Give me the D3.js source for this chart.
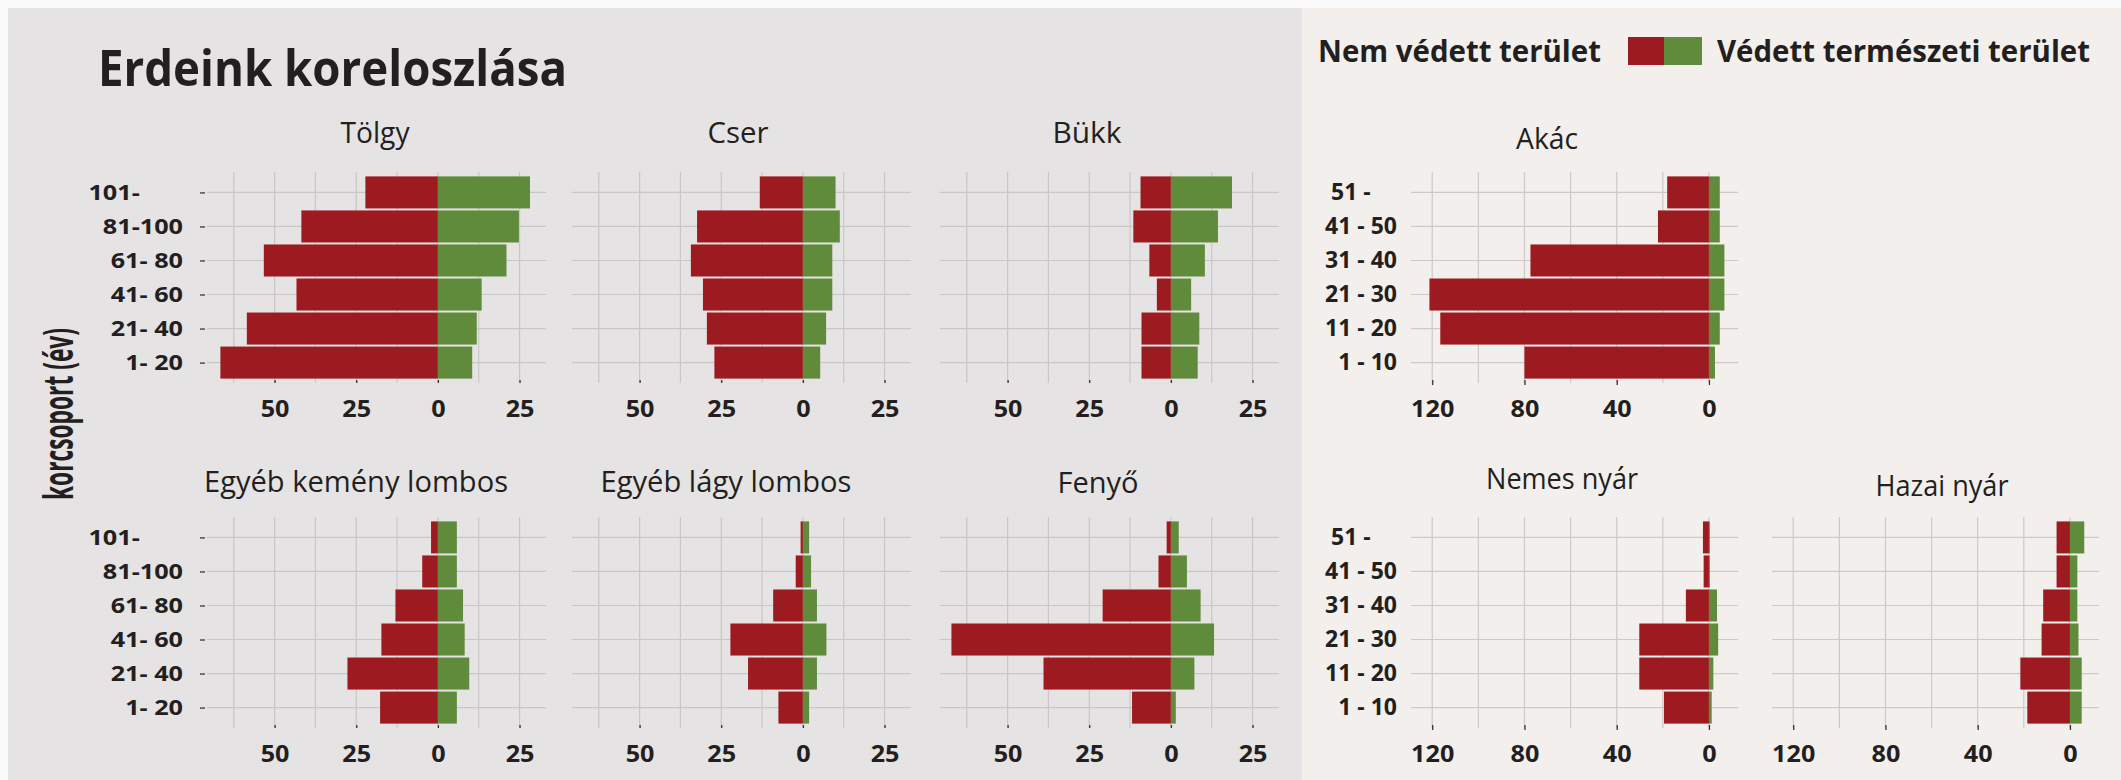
<!DOCTYPE html>
<html>
<head>
<meta charset="utf-8">
<script src="https://cdn.jsdelivr.net/npm/d3@7/dist/d3.min.js"></script>
<style>
  html, body { margin: 0; padding: 0; background: #fff; }
  svg { display: block; font-family: 'Open Sans', 'DejaVu Sans', sans-serif; }
</style>
</head>
<body>
<svg id="chart" width="2121" height="780"></svg>
<script>
// age groups (youngest first) - tick labels
const ageLeft = ['1- 20', '21- 40', '41- 60', '61- 80', '81-100', '101-\u2007\u2007\u2007']
const ageRight = ['1 - 10', '11 - 20', '21 - 30', '31 - 40', '41 - 50', '51 -\u2007\u2007']

// legend / series
const seriesNames = ['Nem védett terület', 'Védett természeti terület']

// values per species, youngest group first (red = nem védett, green = védett)
const tolgyNem = [66.6, 58.5, 43.3, 53.3, 41.8, 22.2]
const tolgyVed = [10.5, 11.9, 13.4, 21.0, 24.8, 28.2]
const cserNem = [27.1, 29.4, 30.6, 34.3, 32.4, 13.2]
const cserVed = [5.3, 7.1, 9.0, 9.0, 11.3, 10.0]
const bukkNem = [9.0, 9.0, 4.3, 6.6, 11.5, 9.3]
const bukkVed = [8.2, 8.7, 6.2, 10.4, 14.4, 18.7]
const kemenyNem = [17.7, 27.7, 17.3, 13.0, 4.8, 2.1]
const kemenyVed = [5.8, 9.6, 8.2, 7.7, 5.8, 5.8]
const lagyNem = [7.5, 16.8, 22.2, 9.1, 2.2, 0.7]
const lagyVed = [1.9, 4.3, 7.2, 4.3, 2.5, 1.9]
const fenyoNem = [11.9, 39.0, 67.2, 20.9, 3.8, 1.3]
const fenyoVed = [1.5, 7.2, 13.2, 9.1, 4.9, 2.4]
const akacNem = [80.0, 116.5, 121.2, 77.4, 22.1, 18.1]
const akacVed = [2.6, 4.7, 6.7, 6.7, 4.7, 4.7]
const nemesNem = [19.5, 30.2, 30.2, 10.0, 2.3, 2.6]
const nemesVed = [1.2, 1.9, 4.0, 3.5, 0.4, 0.4]
const hazaiNem = [18.5, 21.5, 12.3, 11.6, 5.8, 5.8]
const hazaiVed = [5.1, 5.1, 3.7, 3.2, 3.2, 6.2]

const leftTicks = [-50, -25, 0, 25]
const rightTicks = [-120, -80, -40, 0]

// colours
const red = '#9d1b20'
const green = '#5f8b3b'
const ink = '#231f20'
const bgLeft = '#e5e3e3'
const bgRight = '#f2efec'

// layout
const panelH = 211
const leftW = 339
const rightW = 327
const leftDomain = [-70.7, 33.1]
const rightDomain = [-129.2, 12.6]

const panels = [
  {title: 'Tölgy', nem: tolgyNem, ved: tolgyVed, side: 'left', x: 207, y: 172, tx: 375, ty: 143, tw: 69, yAxis: true},
  {title: 'Cser', nem: cserNem, ved: cserVed, side: 'left', x: 572, y: 172, tx: 738, ty: 143, tw: 61},
  {title: 'Bükk', nem: bukkNem, ved: bukkVed, side: 'left', x: 940, y: 172, tx: 1087, ty: 143, tw: 69},
  {title: 'Egyéb kemény lombos', nem: kemenyNem, ved: kemenyVed, side: 'left', x: 207, y: 517, tx: 356, ty: 492, tw: 304, yAxis: true},
  {title: 'Egyéb lágy lombos', nem: lagyNem, ved: lagyVed, side: 'left', x: 572, y: 517, tx: 726, ty: 492, tw: 251},
  {title: 'Fenyő', nem: fenyoNem, ved: fenyoVed, side: 'left', x: 940, y: 517, tx: 1098, ty: 493, tw: 81},
  {title: 'Akác', nem: akacNem, ved: akacVed, side: 'right', x: 1411, y: 172, tx: 1547, ty: 149, tw: 62, yAxis: true},
  {title: 'Nemes nyár', nem: nemesNem, ved: nemesVed, side: 'right', x: 1411, y: 517, tx: 1562, ty: 489, tw: 152, yAxis: true},
  {title: 'Hazai nyár', nem: hazaiNem, ved: hazaiVed, side: 'right', x: 1772, y: 517, tx: 1942, ty: 496, tw: 133}
]

let svg = d3.select('#chart')

// háttér
svg.append('rect').attr('width', 2121).attr('height', 780).attr('fill', '#fbfafa')
svg.append('rect').attr('x', 8).attr('y', 8).attr('width', 1294).attr('height', 772).attr('fill', bgLeft)
svg.append('rect').attr('x', 1302).attr('y', 8).attr('width', 819).attr('height', 772).attr('fill', bgRight)

function addText (parent, x, y, str, o) {
  let t = parent.append('text')
    .attr('transform', 'translate(' + x + ',' + y + ')' + (o.rotate ? ' rotate(' + o.rotate + ')' : ''))
    .attr('text-anchor', o.anchor || 'middle')
    .attr('font-size', o.size)
    .attr('font-weight', o.weight || 400)
    .attr('fill', ink)
    .text(str)
  if (o.width) t.attr('textLength', o.width).attr('lengthAdjust', 'spacingAndGlyphs')
  return t
}

// stretch axis labels horizontally
function stretchLabels (g, sx) {
  g.selectAll('.tick text').each(function () {
    let t = d3.select(this)
    let tx = +t.attr('x') || 0
    let ty = +t.attr('y') || 0
    t.attr('x', 0).attr('y', 0)
      .attr('transform', 'translate(' + tx + ',' + ty + ') scale(' + sx + ',1)')
  })
}

// cím
addText(svg, 98, 86, 'Erdeink koreloszlása', {size: 51, weight: 700, anchor: 'start', width: 469})

// y tengely cím
addText(svg, 73, 500, 'korcsoport (év)', {size: 42, weight: 700, anchor: 'start', rotate: -90, width: 172})

// jelmagyarázat
addText(svg, 1318, 62, seriesNames[0], {size: 30, weight: 700, anchor: 'start', width: 283})
svg.append('rect').attr('x', 1628).attr('y', 37).attr('width', 36).attr('height', 28).attr('fill', red)
svg.append('rect').attr('x', 1664).attr('y', 37).attr('width', 38).attr('height', 28).attr('fill', green)
addText(svg, 1717, 62, seriesNames[1], {size: 30, weight: 700, anchor: 'start', width: 373})

panels.forEach(function (p) {
  let isLeft = p.side === 'left'
  let w = isLeft ? leftW : rightW
  let cats = isLeft ? ageLeft : ageRight
  let gridColor = isLeft ? '#c9c6c6' : '#cdc9c6'

  let x = d3.scaleLinear()
    .domain(isLeft ? leftDomain : rightDomain)
    .range([0, w])
  let y = d3.scalePoint()
    .domain(cats.slice().reverse())
    .range([0, panelH])
    .padding(0.6)

  let g = svg.append('g').attr('transform', 'translate(' + p.x + ',' + p.y + ')')

  // rács
  let gridVals = isLeft ? d3.range(-62.5, 26, 12.5) : d3.range(-120, 1, 20)
  g.selectAll('.vgrid')
    .data(gridVals)
    .enter()
    .append('line')
    .attr('x1', d => x(d)).attr('x2', d => x(d))
    .attr('y1', 0).attr('y2', panelH)
    .attr('stroke', gridColor).attr('stroke-width', 1.2)
  g.selectAll('.hgrid')
    .data(cats)
    .enter()
    .append('line')
    .attr('x1', 0).attr('x2', w)
    .attr('y1', d => y(d)).attr('y2', d => y(d))
    .attr('stroke', gridColor).attr('stroke-width', 1.2)

  // oszlopok
  let rows = cats.map((c, i) => ({cat: c, nem: p.nem[i], ved: p.ved[i]}))
  let barH = y.step() - 2

  g.selectAll('.bar-nem')
    .data(rows)
    .enter()
    .append('rect')
    .attr('x', d => x(-d.nem))
    .attr('width', d => x(0) - x(-d.nem))
    .attr('y', d => y(d.cat) - barH / 2)
    .attr('height', barH)
    .attr('fill', red)

  g.selectAll('.bar-ved')
    .data(rows)
    .enter()
    .append('rect')
    .attr('x', x(0))
    .attr('width', d => x(d.ved) - x(0))
    .attr('y', d => y(d.cat) - barH / 2)
    .attr('height', barH)
    .attr('fill', green)

  // x tengely
  let xAxis = d3.axisBottom(x)
    .tickValues(isLeft ? leftTicks : rightTicks)
    .tickFormat(d => Math.abs(d))
    .tickSize(isLeft ? 0 : 2)
    .tickPadding(isLeft ? 17 : 15)
  let gX = g.append('g')
    .attr('transform', 'translate(0,' + panelH + ')')
    .call(xAxis)
  gX.select('.domain').remove()
  gX.selectAll('.tick line').attr('y1', -3).attr('stroke', '#333').attr('stroke-width', 1.3)
  gX.selectAll('.tick text')
    .attr('font-family', "'Open Sans', sans-serif")
    .attr('font-size', 24).attr('font-weight', 700).attr('fill', ink)
  stretchLabels(gX, 1.05)

  // y tengely
  if (p.yAxis) {
    let yAxis = d3.axisLeft(y)
      .tickSize(isLeft ? 5 : 0)
      .tickPadding(isLeft ? 17 : 14)
    let gY = g.append('g')
      .attr('transform', 'translate(' + (isLeft ? -2 : 0) + ',0)')
      .call(yAxis)
    gY.select('.domain').remove()
    gY.selectAll('.tick line').attr('stroke', '#444').attr('stroke-width', 1.4)
    gY.selectAll('.tick text')
      .attr('font-family', "'Open Sans', sans-serif")
      .attr('font-size', isLeft ? 21 : 23).attr('font-weight', 700).attr('fill', ink)
      .style('white-space', 'pre')
    stretchLabels(gY, isLeft ? 1.2 : 1.0)
  }

  // panel cím
  addText(svg, p.tx, p.ty, p.title, {size: 29, width: p.tw})
})
</script>
</body>
</html>
